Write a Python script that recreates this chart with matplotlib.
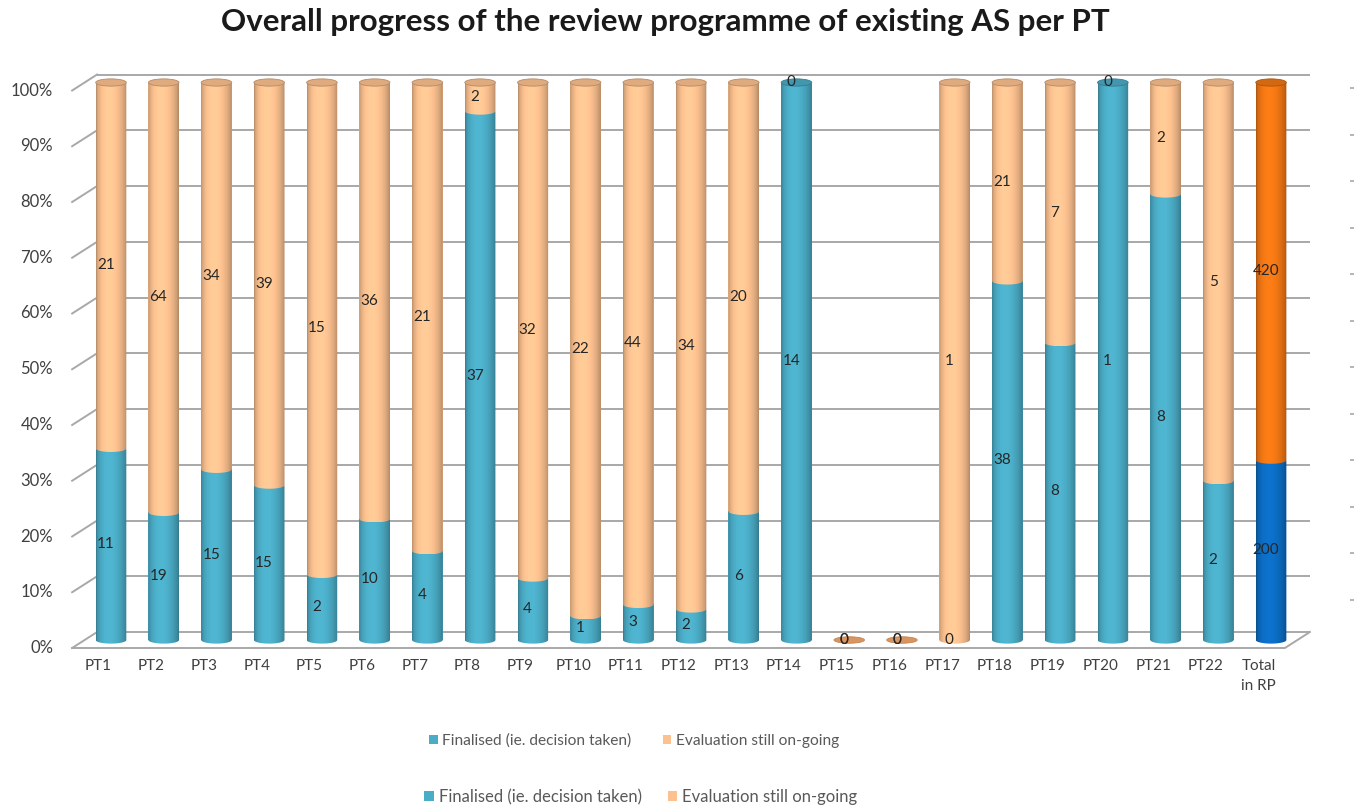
import numpy as np
import matplotlib
matplotlib.use("Agg")
import matplotlib.pyplot as plt
from matplotlib.path import Path
from matplotlib.patches import Ellipse, Patch
from matplotlib.colors import to_rgb

plt.rcParams['font.family'] = ['Lato', 'DejaVu Sans']

categories = ["PT1", "PT2", "PT3", "PT4", "PT5", "PT6", "PT7", "PT8", "PT9", "PT10",
              "PT11", "PT12", "PT13", "PT14", "PT15", "PT16", "PT17", "PT18", "PT19",
              "PT20", "PT21", "PT22", "Total\nin RP"]
finalised = [11, 19, 15, 15, 2, 10, 4, 37, 4, 1, 3, 2, 6, 14, 0, 0, 0, 38, 8, 1, 8, 2, 200]
ongoing = [21, 64, 34, 39, 15, 36, 21, 2, 32, 22, 44, 34, 20, 0, 0, 0, 1, 21, 7, 0, 2, 5, 420]
series_names = ["Finalised (ie. decision taken)", "Evaluation still on-going"]

n = len(categories)
fin = np.array(finalised, dtype=float)
ong = np.array(ongoing, dtype=float)
tot = fin + ong
safe = np.where(tot > 0, tot, 1)
pct_fin = np.where(tot > 0, fin / safe * 100, 0)
pct_ong = np.where(tot > 0, ong / safe * 100, 0)

blue, tan = '#4bacc6', '#fcc18f'
blue_tot, orange_tot = '#0c6cc2', '#f07614'
fin_colors = [blue] * (n - 1) + [blue_tot]
ong_colors = [tan] * (n - 1) + [orange_tot]

fig = plt.figure(figsize=(13.54, 8.07), dpi=100)

# bar plane in pixels: first category at x=111, step 52.73; 0% at y=640, 100% at y=82.5
px_x, px_y = 52.73, 5.575
x_lo, x_hi = -0.8, n - 1 + 0.8
y_lo, y_hi = -2.0, 102.0
left = 111 + x_lo * px_x
right = 111 + x_hi * px_x
top = 640 - y_hi * px_y
bot = 640 - y_lo * px_y
ax = fig.add_axes([left / 1354, 1 - bot / 807, (right - left) / 1354, (bot - top) / 807])
ax.axis('off')

# depth offsets (front/back wall relative to the bar plane)
DX = 12.5 / px_x
DY = 8.0 / px_y

grid_c = '#a8a8a8'
xl, xr = -0.5, n - 0.5
for v in range(0, 101, 10):
    ax.plot([xl + DX, xr + DX], [v + DY, v + DY], color=grid_c, lw=1.4, zorder=1,
            solid_capstyle='butt')
    ax.plot([xl - DX, xl + DX], [v - DY, v + DY], color=grid_c, lw=1.4, zorder=1)
ax.plot([xl - DX, xr - DX, xr + DX], [-DY, -DY, DY], color=grid_c, lw=1.4, zorder=1)

x = np.arange(n)
bw = 0.58
eh = 1.3
bars_fin = ax.bar(x, pct_fin, bw, color=fin_colors, zorder=2)
bars_ong = ax.bar(x, pct_ong, bw, bottom=pct_fin, color=ong_colors, zorder=2)


def seg_path(x0, x1, y0, y1):
    t = np.linspace(np.pi, 2 * np.pi, 40)
    xc, a, b = (x0 + x1) / 2, (x1 - x0) / 2, eh / 2
    arc = xc + a * np.cos(t)
    xs = np.concatenate([arc, arc[::-1], [arc[0]]])
    ys = np.concatenate([y0 + b * np.sin(t), (y1 + b * np.sin(t))[::-1], [y0]])
    return Path(np.column_stack([xs, ys]), closed=True)


def shade(color):
    base = np.array(to_rgb(color))
    t = np.linspace(0, 1, 90)
    s = np.sin(np.pi * t ** 0.8)
    f = 0.68 + 0.38 * s ** 0.6
    img = np.clip(base[None, :] * f[:, None], 0, 1)
    return img[None, :, :]


for rects in (bars_fin, bars_ong):
    for r in rects:
        h = r.get_height()
        if h <= 0:
            continue
        x0, y0 = r.get_x(), r.get_y()
        x1, y1 = x0 + r.get_width(), y0 + h
        im = ax.imshow(shade(r.get_facecolor()), extent=(x0, x1, y0 - eh / 2, y1),
                       aspect='auto', interpolation='bilinear', zorder=3)
        im.set_clip_path(seg_path(x0, x1, y0, y1), transform=ax.transData)

# top caps
for i in range(n):
    if tot[i] > 0:
        c = ong_colors[i] if ong[i] > 0 else fin_colors[i]
        cb = np.array(to_rgb(c))
        ax.add_patch(Ellipse((x[i], 100), bw, eh, facecolor=np.clip(cb * 0.88, 0, 1),
                             edgecolor=np.clip(cb * 0.72, 0, 1), lw=0.6, zorder=4))
    else:
        ax.add_patch(Ellipse((x[i], 0), bw, eh * 0.9, facecolor='#d9955f',
                             edgecolor='#c07c48', lw=0.5, zorder=4))

# data labels
lab_kw = dict(ha='center', va='center', fontsize=11, color='#262626', zorder=5)
for i in range(n):
    ax.text(x[i] - 0.1, pct_fin[i] / 2, str(finalised[i]), **lab_kw)
    ax.text(x[i] - 0.1, pct_fin[i] + pct_ong[i] / 2, str(ongoing[i]), **lab_kw)

# axis labels on the front plane
for v in range(0, 101, 10):
    ax.text(xl - DX - 0.36, v - DY, f"{v}%", ha='right', va='center', fontsize=12,
            color='#404040')
for i, lab in enumerate(categories):
    ax.text(x[i] - DX, -DY - 2.0, lab, ha='center', va='top', fontsize=11,
            color='#404040', linespacing=1.5)

ax.set_xlim(x_lo, x_hi)
ax.set_ylim(y_lo, y_hi)

fig.text(0.4915, 0.9727, "Overall progress of the review programme of existing AS per PT",
         ha='center', va='center', fontsize=22.5, fontweight='bold', color='#1a1a1a')

handles = [Patch(facecolor=blue), Patch(facecolor=tan)]
for (cx, cy, fs, cs) in ((634, 741, 11.2, 2.0), (641, 797, 12.0, 1.6)):
    leg = fig.legend(handles, series_names, loc='center',
                     bbox_to_anchor=(cx / 1354, 1 - cy / 807), ncol=2, frameon=False,
                     fontsize=fs, handlelength=0.55, handleheight=0.55, handletextpad=0.3,
                     columnspacing=cs, borderpad=0, borderaxespad=0)
    for t in leg.get_texts():
        t.set_color('#595959')

# stray tick marks at the right edge of the original
ax2 = fig.add_axes([1353.5 / 1354, 1 - (88 + 46.5 * 11.5) / 807, 0.0001, 46.5 * 12 / 807])
ax2.set_ylim(0, 12)
ax2.set_yticks(np.arange(0.5, 12, 1))
ax2.set_yticklabels([])
ax2.set_xticks([])
ax2.tick_params(axis='y', direction='out', length=3, width=1.2, color='#a8a8a8')
for s in ax2.spines.values():
    s.set_visible(False)
ax2.patch.set_visible(False)

fig.savefig("out.png", dpi=100)
